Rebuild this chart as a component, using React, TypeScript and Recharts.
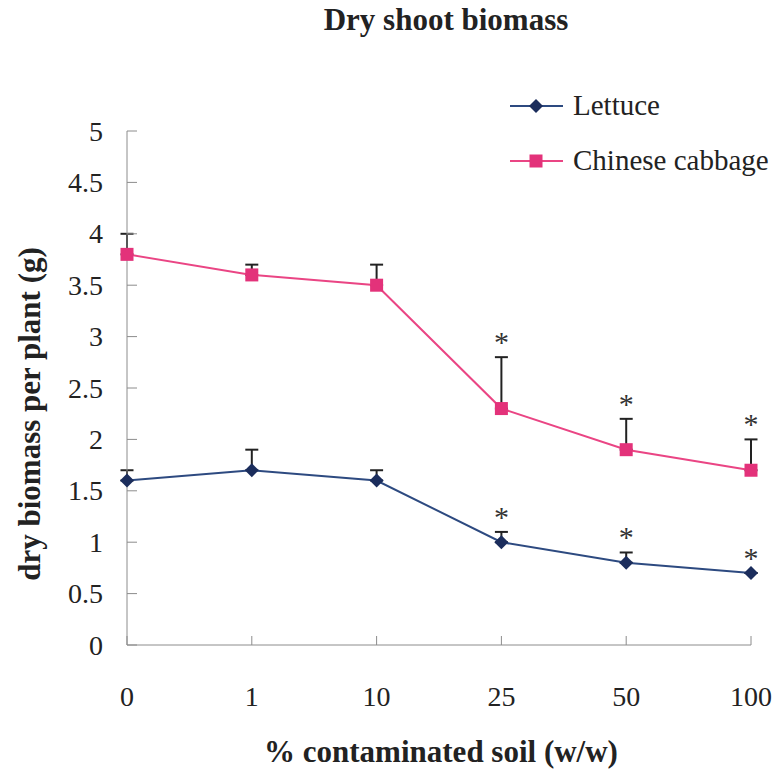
import { LineChart, Line, XAxis, YAxis, ErrorBar } from "recharts";

const categories = ["0", "1", "10", "25", "50", "100"];
const lettuce = [1.6, 1.7, 1.6, 1.0, 0.8, 0.7];
const lettuceErr = [0.1, 0.2, 0.1, 0.1, 0.1, 0];
const cabbage = [3.8, 3.6, 3.5, 2.3, 1.9, 1.7];
const cabbageErr = [0.2, 0.1, 0.2, 0.5, 0.3, 0.3];
const significant = [false, false, false, true, true, true];
const yTicks = [0, 0.5, 1, 1.5, 2, 2.5, 3, 3.5, 4, 4.5, 5];

const data = categories.map((c, i) => ({
  name: c,
  lettuce: lettuce[i],
  lettuceErr: [0, lettuceErr[i]],
  lettuceSig: significant[i] ? lettuce[i] + lettuceErr[i] : null,
  cabbage: cabbage[i],
  cabbageErr: [0, cabbageErr[i]],
  cabbageSig: significant[i] ? cabbage[i] + cabbageErr[i] : null,
}));

const FONT = '"Liberation Serif", "DejaVu Serif", serif';
const LETTUCE_LINE = "#2d4a80";
const LETTUCE_DOT = "#1b2d5c";
const CABBAGE_LINE = "#ea4584";
const CABBAGE_DOT = "#e3327a";
const AXIS = "#8c8c8c";

const Diamond = ({ cx, cy, fill, s = 7 }: any) =>
  cx == null || cy == null ? null : (
    <path d={`M${cx},${cy - s}L${cx + s},${cy}L${cx},${cy + s}L${cx - s},${cy}Z`} fill={fill} />
  );

const Square = ({ cx, cy, fill, s = 6.5 }: any) =>
  cx == null || cy == null ? null : (
    <rect x={cx - s} y={cy - s} width={s * 2} height={s * 2} fill={fill} />
  );

const Star = (props: any) => {
  const { cx, cy, key } = props;
  if (cx == null || cy == null) return <g key={key} />;
  return (
    <text key={key} x={cx} y={cy - 5} textAnchor="middle" fontFamily={FONT} fontSize={30} fill="#333">
      *
    </text>
  );
};

const YTick = ({ x, y, payload }: any) => (
  <g>
    <line x1={x + 24} x2={x + 34} y1={y} y2={y} stroke={AXIS} />
    <text x={x} y={y} textAnchor="end" dominantBaseline="central" fontFamily={FONT} fontSize={28} fill="#222">
      {payload.value}
    </text>
  </g>
);

const XTick = ({ x, y, payload }: any) => (
  <g>
    <line x1={x} x2={x} y1={y - 42} y2={y - 51} stroke={AXIS} />
    <text x={x} y={y} dy="0.68em" textAnchor="middle" fontFamily={FONT} fontSize={28} fill="#222">
      {payload.value}
    </text>
  </g>
);

const LegendBox = () => (
  <div style={{ position: "absolute", left: 510, top: 78, fontFamily: FONT, fontSize: 29, color: "#222" }}>
    <div style={{ display: "flex", alignItems: "center", height: 55 }}>
      <svg width={63} height={20}>
        <line x1={0} x2={53} y1={10} y2={10} stroke={LETTUCE_LINE} strokeWidth={2} />
        <Diamond cx={26} cy={10} fill={LETTUCE_DOT} />
      </svg>
      <span>Lettuce</span>
    </div>
    <div style={{ display: "flex", alignItems: "center", height: 55 }}>
      <svg width={63} height={20}>
        <line x1={0} x2={53} y1={10} y2={10} stroke={CABBAGE_LINE} strokeWidth={2} />
        <Square cx={26} cy={10} fill={CABBAGE_DOT} />
      </svg>
      <span>Chinese cabbage</span>
    </div>
  </div>
);

export default function App() {
  return (
    <div style={{ position: "absolute", left: 0, top: 0, width: 778, height: 770, background: "#fff" }}>
      <div
        style={{
          position: "absolute",
          left: 446,
          top: 4,
          transform: "translateX(-50%)",
          fontFamily: FONT,
          fontWeight: "bold",
          fontSize: 31,
          lineHeight: "31px",
          color: "#222",
          whiteSpace: "nowrap",
        }}
      >
        Dry shoot biomass
      </div>
      <LegendBox />
      <LineChart width={778} height={770} data={data} margin={{ top: 131, right: 27, bottom: 65, left: 67 }}>
        <XAxis
          dataKey="name"
          stroke={AXIS}
          tickLine={false}
          tickSize={0}
          tickMargin={42}
          tick={<XTick />}
          height={60}
          interval={0}
          label={{
            content: () => (
              <text x={441} y={762} textAnchor="middle" fontFamily={FONT} fontWeight="bold" fontSize={31} fill="#222">
                % contaminated soil (w/w)
              </text>
            ),
          }}
        />
        <YAxis
          domain={[0, 5]}
          ticks={yTicks}
          stroke={AXIS}
          tickLine={false}
          tickSize={0}
          tickMargin={24}
          tick={<YTick />}
          width={60}
          interval={0}
          label={{
            content: () => (
              <text
                x={40}
                y={414}
                transform="rotate(-90 40 414)"
                textAnchor="middle"
                fontFamily={FONT}
                fontWeight="bold"
                fontSize={31}
                fill="#222"
              >
                dry biomass per plant (g)
              </text>
            ),
          }}
        />
        {/* error bars first, so the markers paint over the lower caps */}
        <Line dataKey="lettuce" stroke="none" dot={false} activeDot={false} legendType="none" isAnimationActive={false}>
          <ErrorBar dataKey="lettuceErr" direction="y" width={6.5} stroke="#222" strokeWidth={2} />
        </Line>
        <Line dataKey="cabbage" stroke="none" dot={false} activeDot={false} legendType="none" isAnimationActive={false}>
          <ErrorBar dataKey="cabbageErr" direction="y" width={6.5} stroke="#222" strokeWidth={2} />
        </Line>
        <Line
          dataKey="lettuce"
          name="Lettuce"
          stroke={LETTUCE_LINE}
          strokeWidth={2}
          dot={(p: any) => <Diamond key={p.key} cx={p.cx} cy={p.cy} fill={LETTUCE_DOT} />}
          activeDot={false}
          isAnimationActive={false}
        />
        <Line
          dataKey="cabbage"
          name="Chinese cabbage"
          stroke={CABBAGE_LINE}
          strokeWidth={2}
          dot={(p: any) => <Square key={p.key} cx={p.cx} cy={p.cy} fill={CABBAGE_DOT} />}
          activeDot={false}
          isAnimationActive={false}
        />
        <Line dataKey="lettuceSig" stroke="none" dot={Star} activeDot={false} legendType="none" isAnimationActive={false} />
        <Line dataKey="cabbageSig" stroke="none" dot={Star} activeDot={false} legendType="none" isAnimationActive={false} />
      </LineChart>
    </div>
  );
}
